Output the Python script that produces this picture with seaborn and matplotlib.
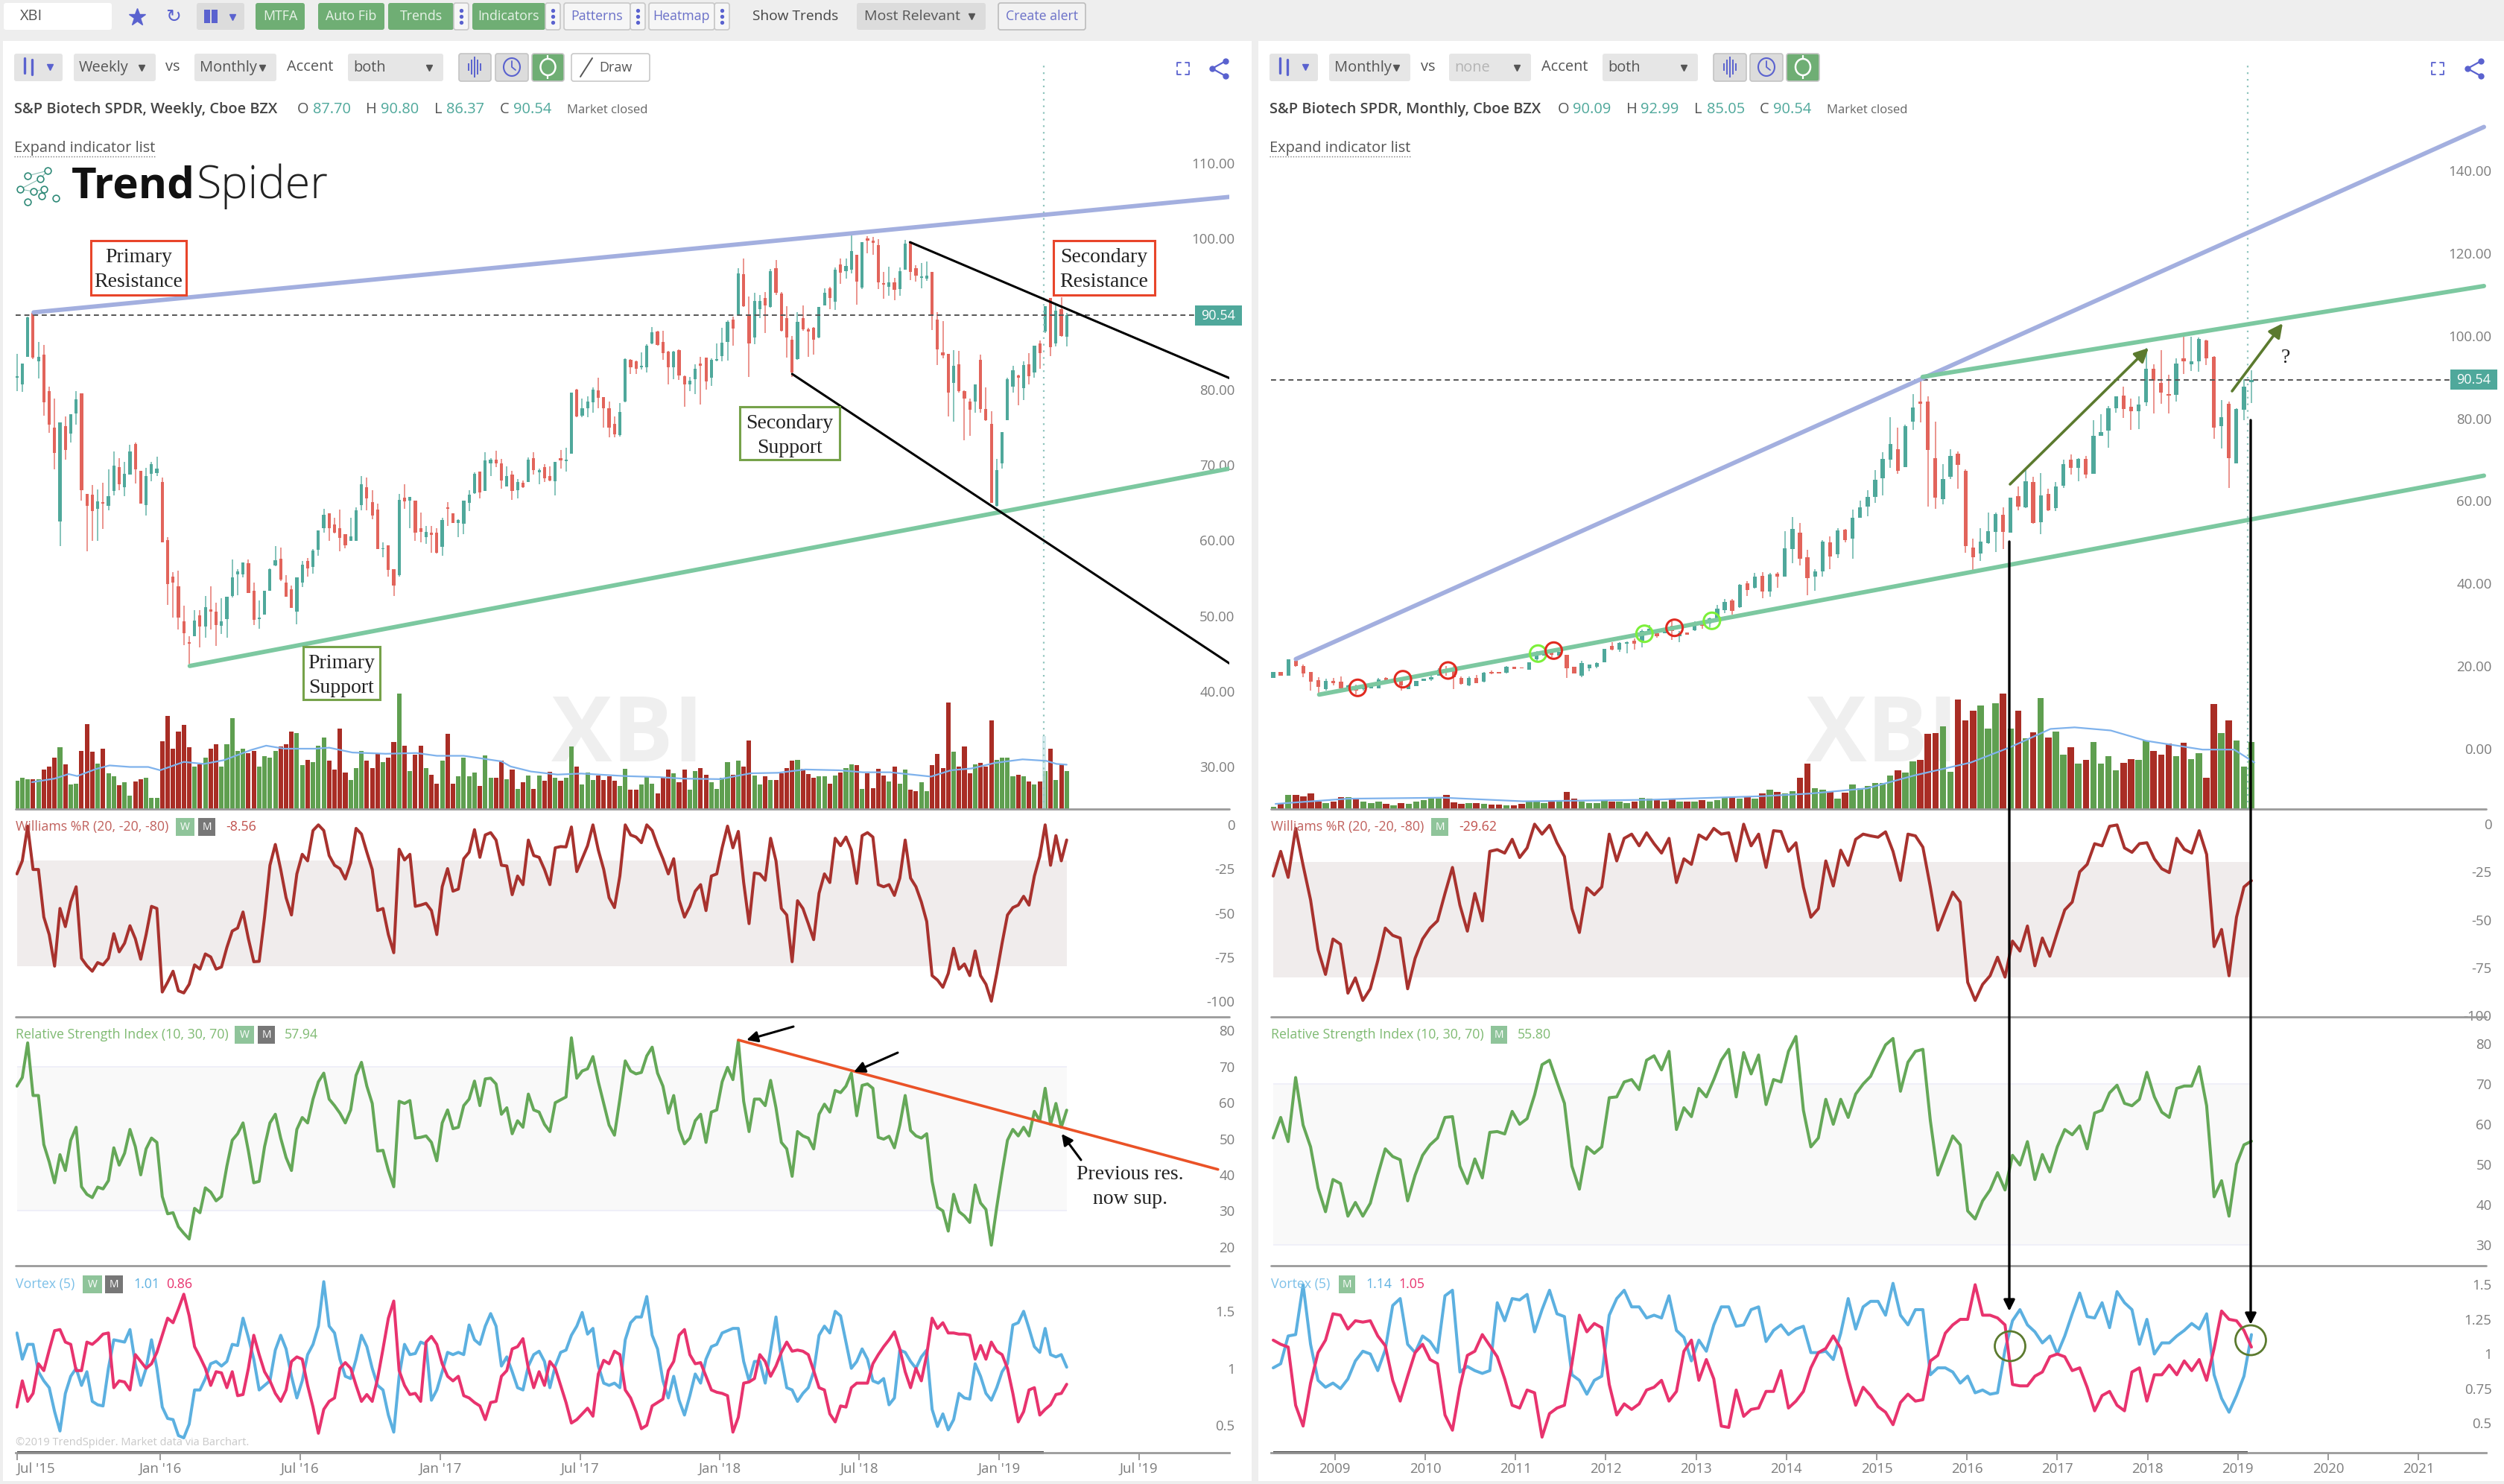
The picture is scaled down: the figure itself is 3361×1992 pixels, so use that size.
import numpy as np
import matplotlib
matplotlib.use('Agg')
import matplotlib.pyplot as plt
import matplotlib.transforms as mtrans
from matplotlib.patches import FancyBboxPatch, Rectangle, Ellipse
import seaborn as sns

# ---- weekly candles (left chart) ----
w_open = [82.2,81.4,85.0,90.8,84.45,85.3,80.5,75.6,63.2,75.8,
 74.8,77.5,80.2,66.85,66.7,64.9,65.8,65.3,67.2,70.4,
 67.7,69.4,73.5,69.9,65.4,69.5,69.65,68.4,60.7,55.9,
 54.6,50.0,47.15,48.0,50.8,49.25,51.55,51.25,49.4,50.3,
 53.3,56.2,56.2,57.7,54.05,50.3,50.9,54.0,57.35,58.25,
 55.05,54.2,51.2,55.1,58.0,57.15,59.4,62.35,64.25,62.75,
 62.35,61.5,60.6,60.6,65.4,67.7,65.8,64.8,59.5,60.05,
 56.85,56.1,66.4,66.0,66.0,62.3,61.1,61.75,61.75,59.8,
 65.1,64.3,63.0,62.85,65.7,66.95,69.8,67.2,70.85,71.4,
 70.85,67.8,69.45,67.35,68.35,68.45,71.6,69.75,70.35,69.25,
 68.55,71.55,71.15,72.15,80.7,77.2,78.15,78.95,80.6,79.7,
 78.15,76.15,74.6,79.05,84.6,84.4,83.65,83.65,86.75,88.4,
 87.0,85.65,83.6,85.85,82.4,81.35,82.0,84.1,84.9,82.2,
 84.5,85.1,86.95,89.95,90.55,95.95,90.65,87.6,91.35,92.85,
 91.65,96.8,93.35,90.15,87.3,84.7,90.15,88.65,88.85,87.6,
 91.85,94.1,92.35,97.2,96.35,96.55,98.55,94.15,100.75,100.45,
 99.85,94.8,94.3,94.9,94.0,96.6,100.25,96.8,95.5,95.4,
 96.3,89.9,85.6,85.4,81.6,84.0,80.45,79.05,79.1,84.6,
 78.05,76.15,65.3,70.9,76.65,81.05,82.55,80.85,84.0,82.95,
 86.8,88.35,92.85,86.8,91.3,87.70]
w_close = [82.4,84.1,90.24,84.9,85.05,79.0,76.0,72.3,76.3,72.7,
 77.4,79.4,67.35,65.3,64.6,65.9,65.6,66.5,70.6,68.1,
 69.5,72.5,70.1,65.6,69.2,70.8,70.2,60.4,54.95,55.1,
 50.5,48.4,47.05,50.1,49.25,51.8,51.2,49.45,50.0,53.2,
 55.8,56.6,57.8,53.7,50.2,50.45,54.0,56.85,58.1,55.45,
 53.2,51.75,55.8,57.5,57.0,59.3,62.0,64.05,62.35,61.7,
 61.0,60.05,61.2,64.65,68.1,66.25,64.0,59.5,59.65,56.75,
 54.7,66.1,65.9,66.45,61.7,61.85,61.85,61.4,59.0,63.4,
 64.85,63.0,63.35,65.95,66.7,69.5,67.0,71.3,71.4,70.85,
 68.65,69.25,67.2,68.45,67.75,71.4,70.0,70.05,68.95,68.6,
 71.05,71.3,71.4,80.25,77.1,78.15,79.05,80.7,79.6,78.15,
 75.65,74.7,77.75,84.7,83.65,83.45,83.8,86.5,88.25,86.55,
 85.55,83.65,85.7,82.5,81.35,81.8,83.4,83.85,81.75,84.65,
 84.7,86.9,89.65,88.75,96.05,91.7,86.8,92.45,92.45,91.8,
 96.4,93.45,88.45,87.6,82.9,89.6,88.65,88.35,87.3,91.6,
 93.5,92.8,96.55,96.15,97.05,99.05,94.95,100.2,100.45,100.1,
 94.9,94.6,94.9,93.85,96.4,100.0,96.3,95.75,95.65,95.75,
 90.4,85.95,85.2,80.3,83.85,80.5,79.45,77.95,81.4,78.05,
 76.6,65.65,70.0,75.0,82.0,83.25,82.25,83.9,82.4,86.45,
 85.55,91.7,86.25,91.15,87.75,90.54]
w_high = [85.44,84.1,90.3,90.8,87.0,86.6,81.1,79.5,76.3,77.15,
 77.4,80.5,80.2,66.85,68.0,67.45,68.3,70.1,72.5,71.6,
 71.1,73.4,73.7,69.9,70.3,71.1,71.8,69.0,61.1,56.5,
 56.65,52.0,48.0,51.45,51.4,53.3,54.6,52.4,53.0,53.2,
 58.2,56.9,57.8,58.2,55.05,52.75,54.0,57.0,59.9,59.7,
 56.1,54.7,55.8,57.95,58.4,59.55,62.0,64.9,64.25,63.65,
 64.8,61.5,63.65,65.05,69.2,69.0,67.3,65.6,60.4,60.05,
 56.85,66.8,68.1,66.45,66.0,64.4,62.6,62.6,62.3,63.7,
 65.8,64.3,63.5,65.95,67.3,69.75,69.8,72.4,71.55,72.55,
 71.5,70.5,69.9,68.85,68.6,71.7,72.4,70.2,70.75,70.5,
 71.05,72.7,72.95,80.25,80.75,79.45,79.8,81.0,82.25,79.7,
 79.05,77.15,78.9,84.85,84.7,84.55,85.6,86.7,89.0,88.5,
 88.5,85.8,85.8,86.0,82.55,82.35,84.0,85.05,84.9,84.8,
 86.75,88.85,89.8,90.3,96.8,98.0,93.0,93.45,93.25,93.6,
 96.7,97.8,93.6,91.7,87.75,90.9,91.8,88.9,89.0,91.6,
 94.1,94.3,96.9,98.05,98.05,101.3,98.55,100.2,101.0,100.9,
 100.65,96.25,97.0,95.5,96.9,100.55,100.25,97.15,97.4,97.6,
 96.3,90.9,89.7,85.4,85.85,85.8,80.6,79.5,81.4,85.3,
 80.95,77.8,71.5,75.0,82.25,83.8,82.65,84.4,85.55,86.45,
 87.2,91.7,92.85,91.95,92.95,90.80]
w_low = [80.44,80.4,85.0,84.7,82.1,77.2,74.9,70.1,59.9,71.4,
 73.7,76.0,66.0,59.2,60.6,60.6,62.25,64.7,66.6,67.35,
 66.5,69.4,68.2,65.6,64.0,68.5,69.2,60.4,52.15,50.5,
 48.9,46.8,44.3,48.0,46.55,47.8,48.9,46.7,48.3,47.8,
 53.1,53.4,55.8,53.7,49.45,49.0,50.9,54.0,57.25,55.25,
 53.2,51.75,49.6,54.5,55.85,56.25,58.65,61.7,60.6,61.6,
 59.2,59.65,60.6,60.6,64.65,64.7,63.45,59.5,58.5,55.85,
 53.3,55.9,64.9,62.3,60.6,60.4,60.2,59.05,58.9,58.65,
 62.6,62.95,61.1,61.55,64.6,66.8,66.3,67.2,69.25,70.4,
 67.55,67.8,66.05,66.3,67.6,68.45,69.4,68.1,68.45,68.55,
 66.6,70.2,69.85,72.15,77.0,77.0,77.0,77.65,78.15,75.65,
 74.3,74.35,74.45,78.95,82.75,82.75,83.35,82.9,86.7,86.5,
 84.65,81.35,82.0,81.9,78.4,80.45,80.1,78.7,80.7,81.15,
 84.4,84.4,84.55,86.5,90.5,91.65,82.35,86.7,90.15,88.15,
 91.55,93.25,88.4,84.9,82.35,84.65,88.5,85.05,85.35,87.5,
 91.8,91.3,91.25,94.65,95.4,96.05,91.95,94.0,98.75,98.5,
 94.0,92.75,93.1,92.55,93.1,96.55,95.2,95.0,94.1,95.1,
 88.6,83.95,84.8,77.1,76.4,80.25,74.0,74.5,77.65,77.65,
 76.5,65.65,65.15,70.25,76.65,80.25,78.55,79.3,81.35,82.25,
 83.4,88.15,85.1,86.4,87.7,86.37]
w_vol = [11.3,12.3,11.8,11.8,11.8,15.5,16.8,20.3,24.3,17.6,
 9.6,10.1,23.0,33.6,22.5,18.0,23.8,14.0,12.8,9.3,
 10.6,5.3,11.0,11.8,12.4,4.4,4.4,26.6,36.6,23.8,
 30.5,33.1,24.3,16.7,17.7,20.3,23.8,25.6,16.8,25.6,
 35.8,22.8,23.8,22.0,23.0,16.7,20.8,20.3,22.8,24.6,
 25.6,30.5,30.0,17.2,19.3,18.6,25.0,28.2,19.0,15.5,
 31.8,14.5,11.5,16.3,22.8,19.0,16.3,22.0,18.5,20.2,
 26.5,45.4,25.1,15.0,21.3,25.1,16.2,13.6,10.1,19.0,
 29.6,10.1,12.8,20.2,12.8,14.5,9.2,21.2,12.3,12.3,
 19.0,11.8,15.5,8.0,10.6,13.3,7.8,13.3,11.1,14.6,
 12.3,11.1,12.3,24.7,16.8,9.7,14.5,11.5,13.3,11.5,
 12.8,11.1,9.2,15.9,7.5,7.5,9.7,12.8,10.1,6.1,
 12.3,15.5,14.0,10.6,15.5,7.5,15.0,16.3,13.6,10.6,
 7.9,12.3,18.6,13.6,19.0,16.8,27.0,13.2,9.7,12.8,
 11.5,11.5,14.2,16.3,19.0,19.4,15.8,13.7,12.3,12.8,
 12.8,10.1,13.2,14.5,16.3,17.7,17.2,7.9,14.2,8.3,
 15.8,13.2,11.0,16.8,10.1,15.5,7.5,7.0,10.6,7.0,
 17.2,21.6,16.3,42.0,22.5,16.8,24.7,14.1,17.6,18.1,
 16.8,35.0,19.4,20.3,20.3,12.8,13.6,12.8,11.0,9.7,
 11.0,15.0,23.8,11.5,17.6,15.0]
w_vol_ma_x = [2.8,7,9.6,11.2,14.7,17.2,21,24.4,26.6,31,34.7,38.5,43.5,46.3,49.7,55.4,58,62.3,68.5,74.2,78,83,90,91.7,95.5,
 100.4,104.8,113,119.3,123.7,130.6,136.3,141.4,146.4,152.7,157.1,162.2,169.8,173.5,177.3,181.7,186.8,191.2,193.1,195]
w_vol_ma = [10.6,12.0,13.8,13.0,15.8,17.2,16.6,16.6,15.3,18.6,17.8,19.3,23.3,25.0,23.8,23.8,24.2,22.3,21.8,22.1,21.0,21.0,18.8,16.8,14.8,
 13.6,14.0,13.0,12.6,12.0,11.8,14.1,14.3,15.6,15.3,14.5,14.5,12.8,15.3,16.0,18.2,19.6,19.0,17.8,17.5]

# ---- monthly candles (right chart) ----
m_open = [18.4,19.9,19.0,22.5,21.4,19.9,17.9,15.7,17.7,17.5,
 16.0,16.3,15.7,15.9,16.0,18.5,17.5,18.1,15.7,16.5,
 17.8,18.1,19.0,20.5,20.2,18.4,16.7,18.4,17.6,19.9,
 19.9,19.7,21.1,21.0,20.5,22.9,23.8,25.0,23.8,24.1,
 21.1,19.0,20.8,21.1,22.3,26.1,25.3,26.8,27.4,27.4,
 29.5,29.2,29.3,31.1,28.6,29.5,29.9,31.6,31.6,32.8,
 34.9,37.2,35.5,41.4,40.3,43.2,39.4,43.6,43.0,49.7,
 53.6,47.7,42.9,44.2,51.2,48.3,54.3,52.1,57.2,59.9,
 62.3,66.8,71.3,73.8,69.5,80.4,85.3,85.25,71.7,61.7,
 67.1,72.8,68.6,50.0,48.5,51.0,53.8,57.9,53.6,62.4,
 59.8,65.9,56.2,62.9,59.6,64.9,71.2,69.2,71.4,67.9,
 77.1,78.3,83.8,86.8,84.0,83.0,85.1,93.2,89.9,87.2,
 87.0,95.8,94.3,95.05,100.2,96.2,79.4,84.8,70.3,83.3,
 90.09]
m_close = [19.9,19.0,23.0,21.3,19.6,17.5,16.3,17.8,17.2,16.0,
 16.6,15.4,16.3,16.6,18.1,17.7,18.3,16.6,16.9,17.8,
 18.3,18.7,20.5,20.1,18.7,17.0,18.4,17.2,19.7,19.5,
 19.5,21.1,20.6,20.7,22.3,24.4,25.0,24.1,24.7,20.8,
 19.6,22.1,21.7,22.0,25.5,25.3,26.9,27.1,26.7,29.8,
 30.4,28.6,30.3,29.8,29.2,28.9,31.1,31.0,32.8,35.2,
 36.9,34.6,40.9,39.7,43.0,39.4,43.5,43.0,49.9,54.5,
 47.3,42.6,44.2,51.5,47.9,54.2,51.8,57.2,59.7,62.3,
 66.4,71.4,75.1,68.6,79.4,83.9,84.8,73.7,62.0,66.6,
 72.2,70.0,50.4,47.6,51.5,53.9,58.1,53.8,62.0,59.9,
 66.1,56.0,62.6,59.0,64.8,70.1,69.2,71.4,67.7,77.0,
 78.0,83.8,86.6,83.6,83.0,84.7,93.2,90.4,87.5,86.75,
 94.6,95.0,95.0,100.4,95.8,79.0,81.5,71.6,83.6,89.0,
 90.54]
m_high = [19.9,19.9,23.0,23.0,21.7,19.9,18.7,18.3,18.5,18.8,
 16.9,16.9,16.6,16.6,18.5,18.7,18.3,18.7,16.9,17.8,
 18.3,19.0,20.8,21.4,21.4,18.8,18.8,19.1,19.9,20.2,
 19.9,21.4,21.1,21.0,22.3,25.0,25.0,25.3,24.7,24.1,
 21.1,22.5,21.7,22.3,25.5,27.1,27.1,27.3,28.0,30.1,
 31.3,29.5,30.3,32.2,29.8,29.5,32.2,31.9,33.1,36.1,
 37.6,37.6,41.1,41.8,43.9,44.1,43.8,44.1,53.9,57.4,
 56.0,49.4,44.8,51.8,52.7,54.6,54.5,59.2,61.4,63.8,
 68.8,73.0,81.5,79.1,79.7,87.2,90.5,86.6,80.4,70.1,
 73.8,73.2,69.0,52.1,54.6,58.4,58.4,59.8,62.0,64.8,
 69.2,67.1,68.0,64.2,65.9,71.2,72.5,71.6,72.2,80.8,
 82.2,84.2,86.6,89.0,86.0,86.6,98.4,94.3,97.7,91.9,
 95.8,101.1,101.1,100.8,100.3,96.4,85.7,85.25,83.8,90.7,
 92.99]
m_low = [18.4,19.0,19.0,21.1,18.7,15.4,14.9,15.4,16.7,15.7,
 15.7,14.5,15.4,15.9,15.9,17.5,17.5,15.4,15.7,16.5,
 17.8,17.7,19.0,19.0,15.7,16.9,16.5,17.2,17.4,19.3,
 19.5,19.6,20.6,20.7,20.5,22.3,23.8,23.5,23.8,18.4,
 19.6,18.7,20.1,20.8,22.3,25.1,24.7,24.3,25.3,25.9,
 29.2,28.1,29.3,27.7,27.1,28.9,29.8,30.3,30.7,32.7,
 34.2,33.7,35.3,38.2,40.0,37.8,38.1,40.3,42.9,46.2,
 45.6,38.5,39.6,42.9,44.7,47.5,51.2,47.3,57.2,57.5,
 60.8,62.6,69.2,67.8,69.5,78.5,80.3,59.9,59.3,60.5,
 66.5,64.2,48.8,44.5,46.8,50.9,48.9,49.7,53.6,59.0,
 59.6,55.8,53.3,58.8,58.8,64.4,67.6,66.0,66.8,67.8,
 77.0,74.2,82.7,81.4,78.5,78.7,84.3,82.5,84.8,82.5,
 85.4,92.0,92.8,92.6,94.1,76.4,74.0,64.4,70.3,80.9,
 85.05]
m_vol = [.5,1.0,2.7,2.8,2.5,3.0,1.5,1.2,1.5,2.3,
 2.3,2.2,1.5,1.2,1.5,1.0,.7,1.2,1.0,1.5,
 1.7,2.0,2.0,2.7,1.3,1.0,1.2,1.2,1.0,.9,
 .8,.7,.7,1.0,1.5,1.5,1.2,1.6,1.5,3.3,
 2.0,1.5,1.2,1.2,1.8,1.5,1.5,1.2,1.5,2.2,
 2.0,1.7,1.5,2.0,1.5,1.5,1.5,1.8,1.5,1.8,
 2.2,2.5,2.0,2.5,2.0,3.0,3.8,3.3,3.0,3.5,
 6.0,8.8,4.0,3.8,3.3,2.0,3.2,4.8,4.0,4.5,
 5.0,5.0,6.5,7.5,7.0,9.2,9.5,14.5,14.7,16.0,
 7.2,21.2,17.2,19.0,20.0,15.5,20.5,22.3,15.5,19.0,
 13.7,14.8,21.5,13.8,15.0,10.5,12.0,8.8,9.5,13.0,
 8.8,10.2,7.5,9.0,9.7,9.5,13.2,11.3,10.5,12.7,
 10.2,12.8,9.7,10.8,6.0,20.3,14.7,17.2,13.3,8.2,
 12.9]
m_vol_ma_x = [.3,9.9,22.6,33.2,50.2,65.1,71.4,78.9,85.2,92.7,98,103.3,106.5,111.3,116,123.5,127.7,130.4]
m_vol_ma = [1.0,2.0,2.2,1.5,1.8,2.5,3.0,4.0,6.5,9.0,12.0,15.5,15.8,15.2,13.2,11.5,11.5,9.0]

# ---- indicators, weekly ----
w_wr = [-27.8,-20.4,-.7,-25.3,-25.3,-52.3,-62.2,-80.1,-47.4,-57.7,-43.7,-35.1,-75.7,-79.9,-83,-78.1,-79.4,-75.7,-61.7,-72,
 -67.1,-57.2,-64.6,-76.2,-62.2,-46.2,-47.4,-94.8,-89.2,-83,-94.1,-95.3,-90.4,-79.4,-81.8,-73.2,-74.9,-81.8,-80.6,-69.5,
 -60.2,-58.5,-49.4,-64.6,-77.6,-77.4,-52.3,-22.9,-11.1,-25.3,-41.3,-51.1,-27.8,-16.7,-20.4,-3.2,0,-3.2,-17.4,-22.9,
 -24.8,-30.7,-21.6,-2,-5.2,-15.5,-25.3,-48.6,-47.4,-62.2,-72.5,-13.8,-19.9,-16.7,-46.2,-45.5,-44.5,-48.6,-62.2,-35.1,
 -24.8,-37.6,-36.4,-19.2,-15.5,-2.7,-18.4,-5.7,-4.4,-8.6,-22.9,-23.3,-39.6,-29,-33.9,-8.6,-17.4,-18.4,-25.3,-33.9,
 -13,-12.3,-12.5,-1.2,-26.5,-19.2,-11.8,0,-14.3,-25.3,-41.3,-46.9,-29,0,-5.7,-6.9,-10.1,0,-3.2,-11.8,
 -19.2,-27.8,-19.2,-42.5,-52.3,-46.2,-37.6,-33.9,-48.6,-29,-27.8,-13,-.7,-13,-3.7,-32.7,-56,-27.3,-27.8,-31.4,
 -7.6,-20.4,-47.4,-51.1,-77.6,-43,-47.4,-56,-65.1,-38.8,-27.8,-32.7,-7.6,-11.8,-6.9,-14.3,-33.2,-6.1,-4.4,-6.9,
 -33.9,-35.1,-33.9,-40,-30.2,-8.6,-30.2,-35.1,-43.7,-54.8,-85.5,-88,-92.1,-84.3,-70,-81.8,-78.9,-85.5,-71.5,-85.5,
 -90.4,-100,-84.3,-67.1,-51.1,-46.9,-45.5,-40.5,-45.5,-29,-17.9,0,-22.9,-6.1,-20.4,-8.56]
w_rsi = [64.6,67,76.6,62,62,48.4,43.6,37.8,45.6,41.2,49.6,53.2,36.7,34.6,33.7,36.6,36.1,38.4,47.5,42.7,
 46,52.6,47.8,40,47.2,50.2,49,34,29.2,29.5,25.6,23.8,22.2,30.7,29.5,36.4,35.2,32.8,34,42.4,
 49.6,51.4,54.4,46.6,37.8,38.2,47.8,54.4,56.8,50.2,44.8,41.2,52.6,55.9,54.4,61,65.8,68.2,61,59.2,
 57.1,54.4,58,67.6,71.2,64.6,59.8,46.6,46.8,41.2,36.7,60.4,59.8,60.6,50.2,50.4,50.8,49,43.9,54.4,
 58,52.8,53.2,59.2,61,66,59.2,66.6,66.8,65.2,56.8,58.6,51.4,55,53.2,62.4,58,57.4,54,52,
 60,60.8,61.6,78,66.8,68.8,69.4,72.8,65.8,59.8,53.8,51,61,71.6,68.8,68,68.4,73,75.4,68.2,
 64.6,57.1,62,52.6,48.6,50.2,55,56.8,49,57.4,58,65.8,69.8,66.4,77.2,60.4,52,61,61,59.2,
 66.2,58.6,49,47.2,39.6,52,50.8,50.2,47.2,56.8,59.6,57.4,63.4,62.8,64.6,68.2,56.4,64.8,65.2,64,
 50.4,49.9,50.7,47.5,53.8,62,52.3,50.8,50.2,51.4,38.2,31,30,24.4,34.6,29.8,28.6,26.8,37.2,32.2,
 30.4,20.5,31,40.6,49.6,52.6,50.8,53.2,50.8,57.6,55,64,54,59.8,53.2,57.94]
w_vi_plus = [1.31,1.08,1.21,1.21,.97,.89,.83,.62,.45,.78,.93,1.0,.85,.97,.71,.68,.67,1.0,1.25,1.24,
 1.23,1.34,1.04,.85,1.0,1.25,1.0,.66,.56,.55,.41,.39,.51,.81,.81,.91,1.04,1.06,1.02,1.06,
 1.21,1.2,1.44,1.27,1.08,.81,.85,.89,1.16,1.29,1.17,.93,.74,.89,1.12,1.21,1.37,1.76,1.37,1.31,
 1.08,.93,.91,1.08,1.29,1.19,1.0,.85,.81,.59,.44,.93,1.21,1.12,1.13,1.23,1.21,.72,.81,.97,
 1.14,1.12,1.14,1.12,1.38,1.25,1.21,1.37,1.48,1.37,1.02,1.1,.97,.83,.81,1.02,1.12,1.15,1.06,.83,
 1.02,1.14,1.16,1.29,1.37,1.49,1.3,1.35,1.02,.87,.85,.87,.83,1.25,1.4,1.45,1.45,1.63,1.29,1.17,
 .89,.74,.93,.72,.59,.76,.95,.87,1.08,1.19,1.21,1.31,1.33,1.35,1.35,1.06,.89,1.06,1.06,.87,
 1.16,1.45,1.08,.83,.81,.71,.78,.83,.97,1.29,1.37,1.31,1.5,1.46,1.23,1.0,1.06,1.17,1.08,.89,
 .87,.91,.68,.74,1.16,1.14,1.06,1.0,1.1,1.16,.64,.49,.6,.46,.55,.78,.74,.73,1.04,.93,
 .78,.72,.83,.97,1.04,1.38,1.4,1.5,1.35,1.19,1.14,1.35,1.12,1.1,1.12,1.01]
w_vi_minus = [.66,.89,.71,.78,1.04,.98,1.16,1.33,1.34,1.23,1.21,.98,.98,1.23,1.21,1.25,1.3,1.31,.83,.89,
 .88,.81,1.12,1.06,1.0,1.04,1.14,1.29,1.44,1.4,1.52,1.65,1.46,1.19,1.1,1.0,.85,.97,.96,.83,
 .97,.76,.77,1.0,1.29,1.12,.97,.89,.78,.71,.81,1.06,1.1,1.08,.85,.66,.43,.64,.71,.74,
 1.0,1.05,1.0,.85,.71,.77,.71,.91,1.17,1.44,1.59,.98,.85,.77,.78,.71,1.23,1.28,1.21,1.04,
 .93,.89,.93,.76,.74,.7,.67,.55,.7,.71,.93,.98,1.17,1.19,1.26,1.0,.83,.97,.85,1.06,
 1.0,.85,.7,.52,.55,.6,.65,.58,.95,1.07,1.04,1.15,1.12,.81,.74,.62,.47,.5,.67,.7,
 .73,.98,1.06,1.29,1.34,1.12,1.04,1.05,.93,.81,.79,.78,.76,.44,.57,.87,.88,.91,1.12,1.06,
 .93,1.02,1.14,1.23,1.15,1.16,1.15,1.12,.98,.83,.81,.6,.53,.67,.66,.83,.87,.87,.87,1.04,
 1.12,1.19,1.25,1.32,1.17,.97,.83,1.0,.89,1.12,1.44,1.35,1.4,1.31,1.31,1.3,1.3,1.29,1.08,1.2,
 1.08,1.23,1.15,1.12,1.0,.78,.53,.62,.81,.83,.59,.64,.68,.77,.78,.86]

# ---- indicators, monthly ----
m_wr = [-27.2,-14.3,-27.9,-2.3,-21.6,-39.7,-65.7,-78.6,-60.1,-62.8,-88.4,-80.4,-92.2,-86.1,-71.4,-54.4,-58.2,-59.6,-86.1,-70.2,
 -60.1,-54.4,-50.6,-36.3,-22.7,-42.4,-56,-36.3,-50.6,-14.3,-13.4,-15.2,-8,-17.5,-12.5,-.1,-5.3,-.7,-9.8,-17,
 -44.2,-56.7,-33.4,-37,-32.9,-5.3,-19.3,-7.5,-5.3,-11.4,-4.6,-10.3,-15.2,-7.5,-30.6,-18.2,-21.1,-5.7,-8,-2.3,
 -5.3,-4.6,-19.3,-.1,-11.4,-5.3,-22.7,-3.5,-3.9,-14.3,-9.8,-32.9,-48.7,-44.2,-19.3,-32.4,-13.7,-21.6,-8,-5.3,
 -6.2,-6.9,-4.1,-14.3,-29.5,-5.3,-6.2,-12.1,-32.9,-55.5,-45.3,-35.6,-40.8,-82.7,-92.2,-83.8,-79.3,-69.6,-80,-61.2,
 -66.4,-53.3,-74.1,-59.6,-69.1,-56.7,-44.9,-40.8,-25,-21.1,-10.3,-11.4,-1.2,-.5,-12.5,-14.8,-10.3,-9.8,-18.2,-23.4,
 -25.4,-7.5,-13.2,-15.2,-3.5,-15.9,-64.1,-55.1,-79.3,-48.7,-32.9,-29.62]
m_rsi = [56.6,61.7,55.7,71.6,59.8,54.4,44.2,38.3,46.3,45.3,37.2,40.6,37.2,40.4,47.4,53.9,52,51.2,41,47.4,
 52.3,54.9,56.6,61.7,61.9,49.6,45.3,51.4,46.7,58,58.2,57.6,63.2,60,61.4,67.3,74.8,75.9,70.5,65.2,
 49.6,43.9,54.4,52.8,54.4,66.6,66.8,70.5,71.1,68.6,75.9,77,73.5,78.1,58.7,64.1,61.9,68.9,66.8,71.1,
 75.9,78.6,66.8,77.8,72.5,77.2,64.9,71.1,70.5,78.1,81.8,63.5,54.4,56.6,66.2,60,66.2,61.7,67.5,70,
 71.9,75.9,79.7,81.3,68.2,75.4,78.1,78.6,60.9,47.4,52.3,57.1,54.9,38.5,36.5,41,43.7,48,43.7,52.3,
 49.9,55.7,46.3,52.5,48.2,54.4,58.7,57.4,59.6,53.9,62.8,63.5,67.8,69.7,65.2,64.6,66.2,72.9,66.8,63,
 61.7,68.9,69.5,69.5,74.3,64.6,42,46,37.2,50.1,54.9,55.8]
m_vi_plus = [.9,.93,1.13,1.14,1.5,1.07,.81,.76,.79,.75,.82,.95,1.02,1.0,.88,1.03,1.35,1.4,1.07,1.01,
 1.13,1.09,1.01,1.42,1.46,.87,.91,.88,.86,.88,1.37,1.24,1.4,1.39,1.43,1.16,1.32,1.46,1.29,1.27,
 .85,.81,.71,.81,.84,1.28,1.4,1.46,1.34,1.34,1.26,1.28,1.26,1.42,1.17,1.12,.95,1.1,1.02,1.21,
 1.34,1.34,1.2,1.21,1.32,1.34,1.09,1.17,1.21,1.14,1.18,1.2,1.01,1.01,1.02,.96,1.15,1.4,1.18,1.34,
 1.38,1.38,1.28,1.51,1.28,1.21,1.32,1.32,.85,.9,.9,.87,.79,.84,.72,.74,.71,.72,1.03,1.24,
 1.32,1.21,1.16,1.08,1.13,1.0,1.13,1.29,1.44,1.27,1.26,1.37,1.19,1.45,1.37,1.32,1.07,1.25,1.0,1.08,
 1.08,1.13,1.17,1.22,1.18,1.29,.85,.68,.58,.7,.84,1.14]
m_vi_minus = [1.1,1.07,1.05,.63,.48,.79,1.01,1.1,1.29,1.28,1.18,1.24,1.23,1.24,1.13,1.06,.81,.66,.84,1.01,
 1.07,.96,.93,.56,.45,.76,.99,1.02,1.14,1.06,.98,.82,.63,.61,.74,.72,.4,.57,.61,.63,
 .93,1.28,1.16,1.22,1.19,.78,.56,.64,.6,.64,.74,.76,.81,.66,.73,1.02,1.1,.81,.96,.82,
 .48,.47,.74,.55,.6,.61,.73,.73,.88,.61,.66,.73,.9,1.01,1.04,1.13,1.04,.82,.63,.76,
 .7,.62,.58,.49,.65,.71,.66,.67,.95,.99,1.15,1.21,1.25,1.25,1.5,1.28,1.28,1.26,1.21,.78,
 .77,.77,.84,.87,.98,1.0,.98,.88,.9,.76,.59,.7,.73,.63,.59,.87,.9,.66,.85,.85,
 .92,.85,.95,.88,.96,.81,1.04,1.31,1.25,1.24,1.17,1.05]

# ---- axis labels ----
w_price_ticks = [30,40,50,60,70,80,100,110]
m_price_ticks = [0,20,40,60,80,100,120,140]
wr_ticks = [0,-25,-50,-75,-100]
w_rsi_ticks = [20,30,40,50,60,70,80]
m_rsi_ticks = [30,40,50,60,70,80]
w_vx_ticks = [0.5,1,1.5]
w_vx_labels = ['0.5','1','1.5']
m_vx_ticks = [0.5,0.75,1,1.25,1.5]
m_vx_labels = ['0.5','0.75','1','1.25','1.5']
w_date_pos = [0,26.6,52.6,78.6,104.6,130.6,156.4,182.5,208.4]
w_date_labels = ["Jul '15","Jan '16","Jul '16","Jan '17","Jul '17","Jan '18","Jul '18","Jan '19","Jul '19"]
m_date_pos = [8.2,20.2,32.2,44.2,56.2,68.2,80.2,92.2,104.2,116.2,128.2,140.2,152.2]
m_date_labels = ['2009','2010','2011','2012','2013','2014','2015','2016','2017','2018','2019','2020','2021']

# trend lines as (x in bars, y in price/indicator units)
w_res_x, w_res_y = [3.1,225.2], [90.9,106.2]
w_sup_x, w_sup_y = [32.1,225.2], [44.05,70.2]
w_sec_res_x, w_sec_res_y = [165.9,225.2], [100.2,82.2]
w_sec_sup_x, w_sec_sup_y = [144,225.2], [82.74,44.4]
w_rsi_line_x, w_rsi_line_y = [134,223.1], [77.4,41.5]
m_res_x, m_res_y = [3,160.9], [23,151.8]
m_top_x, m_top_y = [86.3,160.9], [91.3,113.3]
m_sup_x, m_sup_y = [6.1,160.9], [14.4,67.4]
last_price = 90.54

W, H = 3362, 1992
TEAL, RED = '#4fa89b', '#e2645b'
VOL_UP, VOL_DN = '#5f9f50', '#a92d25'
WR_C, RSI_C, VIP_C, VIM_C = '#a8322e', '#65a858', '#5cb0e0', '#e8336e'
BLUE_LN, GREEN_LN = '#a3afdf', '#7cc8a0'
FONT = 'Open Sans'
SERIF = 'Liberation Serif'
TICK_C = '#7c7c7c'
UI_FS = 14.4
TICK_FS = 13.4

sns.set_theme(style='white')
plt.rcParams['font.family'] = [FONT, 'DejaVu Sans']
fig = plt.figure(figsize=(W/100, H/100), dpi=100, facecolor='#eeeeee')


def px_axes(x0, y0, x1, y1, z=2):
    a = fig.add_axes([x0/W, 1-y1/H, (x1-x0)/W, (y1-y0)/H], facecolor='none', zorder=z)
    for s in a.spines.values():
        s.set_visible(False)
    a.set_xticks([])
    a.set_yticks([])
    return a


# page background, and annotation layer in pixel coordinates
bg = px_axes(0, 0, W, H, z=0)
bg.set_xlim(0, W); bg.set_ylim(H, 0)
fg = px_axes(0, 0, W, H, z=10)
fg.set_xlim(0, W); fg.set_ylim(H, 0)
for x0, x1 in [(4, 1680), (1689, W)]:
    bg.add_patch(Rectangle((x0, 55), x1-x0, 1988-55, fc='white', ec='none'))
bg.text(842, 990, 'XBI', fontsize=88, fontweight='bold', color='#efefef', ha='center', va='center')
bg.text(2526, 990, 'XBI', fontsize=88, fontweight='bold', color='#efefef', ha='center', va='center')


def txt(x, y, s, color='#555555', fs=UI_FS, ha='left', **kw):
    return fg.text(x, y, s, color=color, fontsize=fs, ha=ha, va='center', **kw)


def button(x0, x1, y0=72, y1=109, fc='#e6e6e6', ec='none', label=None, tc='#555555', fs=UI_FS, caret=False, lx=None):
    fg.add_patch(FancyBboxPatch((x0, y0), x1-x0, y1-y0, boxstyle='round,pad=0,rounding_size=3', fc=fc, ec=ec, lw=1.2))
    if label:
        if lx is None:
            txt((x0+x1)/2, (y0+y1)/2, label, color=tc, fs=fs, ha='center')
        else:
            txt(lx, (y0+y1)/2, label, color=tc, fs=fs)
    if caret:
        fg.plot([x1-19], [(y0+y1)/2], marker='v', ms=6, color='#555555', ls='none')


def candles(ax, o, h, l, c, width):
    x = np.arange(len(o))
    o, h, l, c = map(np.array, (o, h, l, c))
    up = c >= o
    cols = np.where(up, TEAL, RED)
    ax.vlines(x, l, h, colors=cols, lw=1.3, alpha=.75)
    ax.bar(x, np.maximum(np.abs(c-o), .15), bottom=np.minimum(o, c), width=width, color=cols, lw=0)
    return up


def tick_labels(ax, ticks, labels, pad, dy=0, size=TICK_FS):
    ax.yaxis.tick_right()
    ax.set_yticks(ticks)
    ax.set_yticklabels(labels)
    ax.tick_params(axis='y', length=0, pad=pad, labelsize=size, labelcolor=TICK_C)
    off = mtrans.ScaledTranslation(0, dy/100, fig.dpi_scale_trans)
    for lab in ax.get_yticklabels():
        lab.set_ha('right')
        lab.set_transform(lab.get_transform() + off)


def line(ax, x, y, color, lw, **kw):
    sns.lineplot(x=x, y=y, color=color, lw=lw, ax=ax, sort=False, errorbar=None, legend=False, **kw)
    ax.set_xlabel(''); ax.set_ylabel('')


def series(ax, y, last, color, lw=2.9):
    line(ax, np.linspace(0, last, len(y)), np.array(y), color, lw)


def draw_chart(x0, x1, step, base, o, h, l, c, vol, vol_x, vol_ma, vol_top, price_lim, price_ticks, price_fmt,
               wr, rsi, vp, vm, wr_lim, rsi_lim, vx_lim, rsi_ticks, vx_ticks, vx_labels, date_pos, date_labels,
               body_w, bar_w, cursor):
    xlim = ((x0-base)/step, (x1-base)/step)
    last = len(o)-1
    lab_pad = 5.5

    vol_ax = px_axes(x0, 925, x1, 1086)
    vol_ax.set_xlim(xlim); vol_ax.set_ylim(0, vol_top)
    up = np.array(c) >= np.array(o)
    vol_ax.bar(np.arange(len(vol)), vol, width=bar_w, color=np.where(up, VOL_UP, VOL_DN), lw=0)
    line(vol_ax, vol_x, vol_ma, '#7fb2ec', 1.6)

    price = px_axes(x0, 85, x1, 1086, z=3)
    price.set_xlim(xlim); price.set_ylim(price_lim)
    candles(price, o, h, l, c, body_w)
    price.axhline(last_price, color='#555555', lw=1.4, ls=(0, (3.5, 2.5)))
    price.axvline(cursor, color='#8fc4bd', lw=1.6, ls=(0, (1, 3)))
    tick_labels(price, price_ticks, [price_fmt % t for t in price_ticks], lab_pad, dy=7)

    wr_ax = px_axes(x0, 1085, x1, 1365)
    wr_ax.set_xlim(xlim); wr_ax.set_ylim(wr_lim)
    wr_ax.fill_between([0, last], -80, -20, color='#f0ecec', lw=0)
    series(wr_ax, wr, last, WR_C)
    tick_labels(wr_ax, wr_ticks, [str(t) for t in wr_ticks], lab_pad)

    rsi_ax = px_axes(x0, 1365, x1, 1699)
    rsi_ax.set_xlim(xlim); rsi_ax.set_ylim(rsi_lim)
    rsi_ax.fill_between([0, last], 30, 70, color='#f9f9f9', lw=0)
    rsi_ax.hlines([30, 70], 0, last, color='#eeeef8', lw=1.2)
    series(rsi_ax, rsi, last, RSI_C)
    tick_labels(rsi_ax, rsi_ticks, [str(t) for t in rsi_ticks], lab_pad)

    vx = px_axes(x0, 1699, x1, 1950)
    vx.set_xlim(xlim); vx.set_ylim(vx_lim)
    series(vx, vp, last, VIP_C)
    series(vx, vm, last, VIM_C)
    tick_labels(vx, vx_ticks, vx_labels, lab_pad)
    vx.spines['bottom'].set_visible(True)
    vx.spines['bottom'].set_color('#9a9a9a')
    vx.spines['bottom'].set_linewidth(2)
    vx.set_xticks(date_pos)
    vx.set_xticklabels(date_labels)
    vx.tick_params(axis='x', bottom=True, length=7, width=1.2, color='#8a8a8a', pad=2, labelsize=TICK_FS, labelcolor=TICK_C)
    # black bar on the axis covers the span up to the cursor
    vx.plot([0, cursor], [vx_lim[0], vx_lim[0]], color='#222222', lw=2.6, clip_on=False, solid_capstyle='butt')

    for y in (1086, 1365, 1699):
        fg.plot([x0, x1], [y, y], color='#9a9a9a', lw=2)
    return price, vol_ax, wr_ax, rsi_ax, vx


w_xstep, w_xbase = 7.226, 22.7
m_xstep, m_xbase = 10.1, 1709
w_price, w_volax, w_wrax, w_rsiax, w_vx = draw_chart(
    21, 1650, w_xstep, w_xbase, w_open, w_high, w_low, w_close, w_vol, w_vol_ma_x, w_vol_ma, 47.3,
    (25.09, 123.9), w_price_ticks, '%.2f', w_wr, w_rsi, w_vi_plus, w_vi_minus,
    (-108.9, 9.4), (14.8, 83.8), (.2595, 1.9), w_rsi_ticks, w_vx_ticks, w_vx_labels,
    w_date_pos, w_date_labels, .58, .84, 190.8)
m_price, m_volax, m_wrax, m_rsiax, m_vx = draw_chart(
    1706, 3337, m_xstep, m_xbase, m_open, m_high, m_low, m_close, m_vol, m_vol_ma_x, m_vol_ma, 23.2,
    (-13.3, 167.2), m_price_ticks, '%.2f', m_wr, m_rsi, m_vi_plus, m_vi_minus,
    (-100.8, 8.2), (24.9, 86.65), (.2876, 1.637), m_rsi_ticks, m_vx_ticks, m_vx_labels,
    m_date_pos, m_date_labels, .52, .84, 129.5)
w_vx.get_xticklabels()[0].set_ha('left')
w_volax.bar([190.8], [28.8], width=.8, color='#c4e2e6', alpha=.7, lw=0)

# trend lines
line(w_price, w_res_x, w_res_y, BLUE_LN, 4.2)
line(w_price, w_sup_x, w_sup_y, GREEN_LN, 4.2)
line(w_price, w_sec_res_x, w_sec_res_y, 'black', 2.2)
line(w_price, w_sec_sup_x, w_sec_sup_y, 'black', 2.2)
line(w_rsiax, w_rsi_line_x, w_rsi_line_y, '#ea5227', 2.6)
line(m_price, m_res_x, m_res_y, BLUE_LN, 4.2)
line(m_price, m_top_x, m_top_y, GREEN_LN, 4.2)
line(m_price, m_sup_x, m_sup_y, GREEN_LN, 4.2)

# price tags
for x0, x1, y0, y1 in [(1604, 1667, 410, 437), (3289, 3352, 496, 523)]:
    fg.add_patch(Rectangle((x0, y0), x1-x0, y1-y0, fc=TEAL, ec='none'))
    txt((x0+x1)/2, (y0+y1)/2, '90.54', color='white', fs=13, ha='center')

# top toolbar
button(5, 150, 4, 40, fc='white', label='XBI', lx=27)
fg.plot([184], [23], marker='*', ms=17, color='#5a62cf', ls='none')
fg.text(233, 23, '\u21bb', color='#5a62cf', fontsize=18, ha='center', va='center', family='DejaVu Sans')
button(264, 328, 4, 40, fc='#dcdcdc')
fg.add_patch(Rectangle((274, 13), 8, 18, fc='#5a62cf', ec='none'))
fg.add_patch(Rectangle((284, 13), 8, 18, fc='#5a62cf', ec='none'))
fg.plot([312], [23], marker='v', ms=6, color='#5a62cf', ls='none')
for x0, x1, s in [(343, 409, 'MTFA'), (427, 516, 'Auto Fib'), (521, 609, 'Trends'), (634, 732, 'Indicators')]:
    button(x0, x1, 4, 40, fc='#6fae74', label=s, tc='#e8f3e8', fs=12.8)
for x0, x1, s in [(757, 846, 'Patterns'), (871, 959, 'Heatmap')]:
    button(x0, x1, 4, 40, fc='#f6f6f6', ec='#c8c8c8', label=s, tc='#6a70c8', fs=12.8)
for x0 in (609, 732, 846, 959):
    button(x0, x0+20, 4, 40, fc='#f6f6f6', ec='#c8c8c8')
    fg.plot([x0+10]*3, [14, 22, 30], ls='none', marker='o', ms=2.8, color='#5a62cf')
txt(1010, 22, 'Show Trends', color='#444444', fs=13.8)
button(1150, 1323, 4, 40, fc='#dcdcdc', label='Most Relevant', lx=1160, caret=True, fs=14)
button(1340, 1457, 4, 40, fc='#f2f2f2', ec='#bcbcbc', label='Create alert', tc='#6a70c8', fs=12.8)


def chart_icon(x, c='#5a62cf'):
    fg.plot([x-5, x-5], [78, 98], color=c, lw=2.4)
    fg.plot([x+5, x+5], [80, 100], color=c, lw=2.4)


def header(btn, tf, vs_x, other, other_c, accent_x, both, icons, title, x_title, ohlc, closed_x, exp_x, share_x):
    button(btn[0], btn[1], fc='#e4e4e4')
    chart_icon(btn[0]+19)
    fg.plot([btn[1]-17], [90], marker='v', ms=6, color='#5a62cf', ls='none')
    button(tf[0], tf[1], label=tf[2], lx=tf[0]+7, caret=True)
    txt(vs_x, 90, 'vs', ha='center')
    button(other[0], other[1], label=other[2], tc=other_c, lx=other[0]+7, caret=True)
    txt(accent_x, 90, 'Accent')
    button(both[0], both[1], label='both', lx=both[0]+7, caret=True)
    for i, (a, b) in enumerate(icons):
        button(a, b, fc='#6fae74' if i == 2 else '#dcdcdc', ec='#c4c4c4')
        cx = (a+b)/2
        if i == 0:
            fg.vlines([cx-8, cx-4, cx, cx+4, cx+8], [85, 80, 76, 80, 85], [95, 100, 104, 100, 95], color='#5a62cf', lw=1.4)
        elif i == 1:
            fg.add_patch(Ellipse((cx, 90), 22, 24, fc='none', ec='#5a62cf', lw=1.5))
            fg.plot([cx, cx, cx+5], [82, 90, 94], color='#5a62cf', lw=1.3)
        else:
            fg.add_patch(Ellipse((cx, 90), 20, 22, fc='none', ec='white', lw=1.8))
            fg.vlines([cx, cx], [74, 101], [79, 106], color='white', lw=1.6)
    txt(x_title, 147, title, color='#444444', fontweight='semibold', fs=14.4)
    for x, s, col in ohlc:
        txt(x, 147, s, color=col, fs=14.4)
    txt(closed_x, 148, 'Market closed', color='#666666', fs=12)
    txt(x_title, 199, 'Expand indicator list', color='#555555', fs=14.4)
    fg.plot([x_title, x_title+190], [210, 210], color='#777777', lw=1, ls=(0, (1, 1.5)))
    # expand + share icons
    for sx, sy in [(-1, -1), (1, -1), (-1, 1), (1, 1)]:
        fg.plot([exp_x+sx*8, exp_x+sx*8, exp_x+sx*3], [92+sy*3, 92+sy*8, 92+sy*8], color='#5a62cf', lw=1.3)
    fg.plot([share_x+9, share_x-9, share_x+9], [82, 92, 102], color='#5a62cf', lw=1.6, marker='o', ms=5)


header((19, 84), (99, 209, 'Weekly'), 232, (261, 371, 'Monthly'), '#555555', 385, (467, 595),
       [(616, 659), (665, 709), (714, 757)], 'S&P Biotech SPDR, Weekly, Cboe BZX', 19,
       [(399, 'O', '#555555'), (420, '87.70', TEAL), (491, 'H', '#555555'), (511, '90.80', TEAL),
        (583, 'L', '#555555'), (599, '86.37', TEAL), (671, 'C', '#555555'), (689, '90.54', TEAL)], 761, 1588, 1636)
button(767, 872, fc='white', ec='#c8c8c8', label='Draw', lx=804, fs=13)
fg.plot([779, 795], [103, 78], color='#555555', lw=1.4)
header((1704, 1769), (1784, 1893, 'Monthly'), 1917, (1945, 2055, 'none'), '#b4b4b4', 2069, (2151, 2279),
       [(2300, 2344), (2349, 2393), (2398, 2442)], 'S&P Biotech SPDR, Monthly, Cboe BZX', 1704,
       [(2091, 'O', '#555555'), (2111, '90.09', TEAL), (2183, 'H', '#555555'), (2202, '92.99', TEAL),
        (2274, 'L', '#555555'), (2291, '85.05', TEAL), (2362, 'C', '#555555'), (2380, '90.54', TEAL)], 2452, 3272, 3321)

# logo
node_x = [37, 64, 54, 27, 45, 59, 56, 75, 37]
node_y = [236, 229, 240, 254, 257, 254, 263, 266, 271]
fg.plot(node_x[:6], node_y[:6], color='#8abdb3', lw=.8)
fg.scatter(node_x, node_y, s=40, facecolor='white', edgecolor='#2f8a78', lw=1.2, zorder=5)
txt(96, 250, 'Trend', color='#111111', fs=42, fontweight='bold')
txt(264, 250, 'Spider', color='#222222', fs=44, fontweight='light')

# indicator legends
LEG_FS = 12.8
legends = [
    ([(21, 1110, 'Williams %R (20, -20, -80)', '#c0605c')], [(236, 261, '#8fc49a', 'W'), (266, 289, '#777777', 'M')], [(303, 1110, '-8.56', '#c0504c')], 1110),
    ([(21, 1389, 'Relative Strength Index (10, 30, 70)', '#7fba72')], [(315, 341, '#8fc49a', 'W'), (346, 369, '#777777', 'M')], [(382, 1389, '57.94', '#7fba72')], 1389),
    ([(21, 1724, 'Vortex (5)', '#7cc0e8')], [(111, 137, '#8fc49a', 'W'), (141, 165, '#777777', 'M')], [(179, 1724, '1.01', VIP_C), (223, 1724, '0.86', VIM_C)], 1724),
    ([(1706, 1110, 'Williams %R (20, -20, -80)', '#c0605c')], [(1921, 1944, '#8fc49a', 'M')], [(1958, 1110, '-29.62', '#c0504c')], 1110),
    ([(1706, 1389, 'Relative Strength Index (10, 30, 70)', '#7fba72')], [(2001, 2023, '#8fc49a', 'M')], [(2037, 1389, '55.80', '#7fba72')], 1389),
    ([(1706, 1724, 'Vortex (5)', '#7cc0e8')], [(1797, 1819, '#8fc49a', 'M')], [(1833, 1724, '1.14', VIP_C), (1877, 1724, '1.05', VIM_C)], 1724),
]
for labels, boxes_, vals, yc in legends:
    for x, y, s, col in labels:
        txt(x, y, s, color=col, fs=LEG_FS)
    for a, b, col, s in boxes_:
        fg.add_patch(Rectangle((a, yc-12), b-a, 24, fc=col, ec='none'))
        txt((a+b)/2, yc, s, color='white', fs=10, ha='center')
    for x, y, s, col in vals:
        txt(x, y, s, color=col, fs=LEG_FS)
txt(21, 1936, '\u00a92019 TrendSpider. Market data via Barchart.', color='#c8c8c8', fs=10.5)

# annotation boxes
boxes = [
    (122, 250, 323, 396, '#e8452a', 'Primary', 'Resistance'),
    (1414, 1550, 323, 396, '#e8452a', 'Secondary', 'Resistance'),
    (993, 1127, 546, 617, '#76a24a', 'Secondary', 'Support'),
    (407, 510, 868, 939, '#76a24a', 'Primary', 'Support'),
]
for x0, x1, y0, y1, col, a, b in boxes:
    fg.add_patch(Rectangle((x0, y0), x1-x0, y1-y0, fc='white', ec=col, lw=2.2, zorder=6))
    fg.text((x0+x1)/2, y0+22, a, family=SERIF, fontsize=20, color='#222222', ha='center', va='center', zorder=7)
    fg.text((x0+x1)/2, y0+55, b, family=SERIF, fontsize=20, color='#222222', ha='center', va='center', zorder=7)
fg.text(1517, 1576, 'Previous res.', family=SERIF, fontsize=20, color='#222222', ha='center', va='center')
fg.text(1517, 1609, 'now sup.', family=SERIF, fontsize=20, color='#222222', ha='center', va='center')
fg.text(3068, 480, '?', family=SERIF, fontsize=20, color='#222222', ha='center', va='center')


def arrow(xy_from, xy_to, col='black', lw=2.2, size=22):
    fg.annotate('', xy=xy_to, xytext=xy_from,
                arrowprops=dict(arrowstyle='-|>', color=col, lw=lw, mutation_scale=size, shrinkA=0, shrinkB=0))


arrow((1065, 1378), (1002, 1396))
arrow((1205, 1413), (1146, 1439))
arrow((1451, 1557), (1425, 1522))
arrow((2698, 650), (2884, 467), col='#5b7a2e', lw=2.6, size=28)
arrow((2996, 525), (3064, 434), col='#5b7a2e', lw=2.6, size=28)
arrow((2697, 727), (2697, 1760), lw=2.4)
arrow((3021, 564), (3021, 1778), lw=2.4)

for cx, cy in [(2698, 1807), (3021, 1799)]:
    fg.add_patch(Ellipse((cx, cy), 41, 40, fc='none', ec='#5b7a2e', lw=2))
for cx, cy, col in [(1822.4, 923.3, 'r'), (1883, 911.7, 'r'), (1943.7, 900, 'r'), (2064.5, 877.3, 'g'),
                    (2085.5, 873.3, 'r'), (2207.3, 850.7, 'g'), (2247.6, 842.7, 'r'), (2297.8, 833.3, 'g')]:
    fg.add_patch(Ellipse((cx, cy), 22, 22, fc='none', ec='#e02a20' if col == 'r' else '#7cf03a', lw=2.2))

fig.savefig('out.png', dpi=100, facecolor=fig.get_facecolor())
